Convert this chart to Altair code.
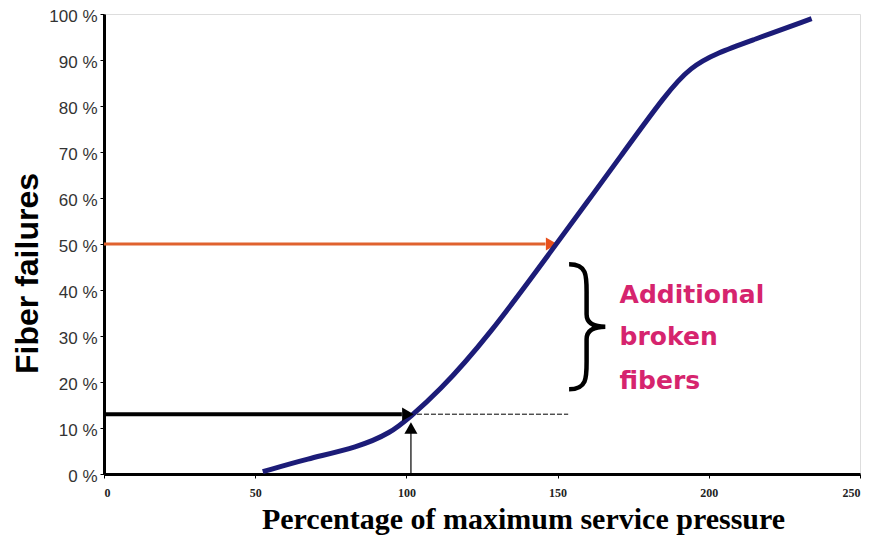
import altair as alt
import pandas as pd

# Curve: percentage of max service pressure vs fiber failures (%)
pressure = [52.5, 67, 84, 95, 101, 110, 127, 149, 160, 170, 186, 194, 203, 214, 234]
failures = [0.5, 3.3, 5.8, 9.0, 12.3, 17.4, 29.8, 49.5, 59.3, 68.3, 82.8, 88.5, 91.6, 94.2, 99.0]

x_ticks = [0, 50, 100, 150, 200, 250]
y_ticks = [0, 10, 20, 30, 40, 50, 60, 70, 80, 90, 100]

# Annotation values
half_level = 50
half_x = 148
low_level = 13
low_x = 100.5
dash_end = 153.5
service_x = 101.5
service_tip = 10.0
brace_x = 160
brace_y = 32
note_x = 170.5
note_lines = ["Additional", "broken", "fibers"]
note_y = [38.9, 29.8, 20.2]

curve_df = pd.DataFrame({"x": pressure, "y": failures})

X = alt.X("x:Q", scale=alt.Scale(domain=[0, 250], nice=False),
          axis=alt.Axis(values=x_ticks, title="Percentage of maximum service pressure",
                        grid=False, domainColor="black", domainWidth=3,
                        tickColor="black", tickSize=4, labelPadding=9,
                        labelFont="Liberation Serif", labelFontWeight="bold",
                        labelFontSize=12, labelColor="#222",
                        titleFont="Liberation Serif", titleFontSize=30,
                        titleFontWeight="bold", titleColor="black",
                        titleX=419, titleY=54, titleBaseline="alphabetic",
                        titleAlign="center"))
Y = alt.Y("y:Q", scale=alt.Scale(domain=[0, 100], nice=False),
          axis=alt.Axis(values=y_ticks, title="Fiber failures", grid=False,
                        labelExpr="datum.value + ' %'",
                        domainColor="black", domainWidth=3,
                        tickColor="black", tickSize=4, labelPadding=3,
                        labelFont="Liberation Sans", labelFontSize=17,
                        labelColor="#333", labelOffset=2,
                        titleFont="Liberation Sans", titleFontSize=32,
                        titleFontWeight="bold", titleColor="black",
                        titleX=-77, titleY=259, titleAngle=-90,
                        titleBaseline="middle", titleAlign="center"))

curve = alt.Chart(curve_df).mark_line(
    color="#1c1c78", strokeWidth=5, interpolate="basis"
).encode(x=X, y=Y)

# Orange 50% arrow
orange_df = pd.DataFrame({"x": [0], "x2": [half_x - 2], "y": [half_level]})
orange_line = alt.Chart(orange_df).mark_rule(color="#e0622e", strokeWidth=3).encode(
    x="x:Q", x2="x2:Q", y="y:Q")
orange_head = alt.Chart(pd.DataFrame({"x": [half_x], "y": [half_level]})).mark_point(
    shape="triangle-right", filled=True, color="#e8501c", size=170, opacity=1
).encode(x="x:Q", y="y:Q")

# Black 13% arrow
black_df = pd.DataFrame({"x": [0], "x2": [low_x - 2], "y": [low_level]})
black_line = alt.Chart(black_df).mark_rule(color="black", strokeWidth=4).encode(
    x="x:Q", x2="x2:Q", y="y:Q")
black_head = alt.Chart(pd.DataFrame({"x": [low_x], "y": [low_level]})).mark_point(
    shape="triangle-right", filled=True, color="black", size=180, opacity=1
).encode(x="x:Q", y="y:Q")
dash_df = pd.DataFrame({"x": [low_x + 3], "x2": [dash_end], "y": [low_level]})
dash_line = alt.Chart(dash_df).mark_rule(color="black", strokeWidth=1,
                                         strokeDash=[5, 2]).encode(
    x="x:Q", x2="x2:Q", y="y:Q")

# Vertical service pressure arrow
vert_df = pd.DataFrame({"x": [service_x], "y": [0], "y2": [service_tip - 1]})
vert_line = alt.Chart(vert_df).mark_rule(color="black", strokeWidth=1.2).encode(
    x="x:Q", y="y:Q", y2="y2:Q")
vert_head = alt.Chart(pd.DataFrame({"x": [service_x], "y": [service_tip]})).mark_point(
    shape="triangle-up", filled=True, color="black", size=170, opacity=1
).encode(x="x:Q", y="y:Q")

# Curly brace
brace_path = ("M -0.3,-1 C 0.0,-1 -0.02,-0.8 -0.02,-0.5 L -0.02,-0.2 "
              "C -0.02,-0.05 0.1,0 0.28,0 C 0.1,0 -0.02,0.05 -0.02,0.2 "
              "L -0.02,0.5 C -0.02,0.8 0.0,1 -0.3,1")
brace = alt.Chart(pd.DataFrame({"x": [brace_x], "y": [brace_y]})).mark_point(
    shape=brace_path, filled=False, color="black", strokeWidth=4.5, size=15625, opacity=1
).encode(x="x:Q", y="y:Q")

note_df = pd.DataFrame({"x": [note_x] * 3, "y": note_y, "t": note_lines})
note = alt.Chart(note_df).mark_text(
    align="left", baseline="middle", font="DejaVu Sans", fontWeight="bold",
    fontSize=25, color="#d6246e"
).encode(x="x:Q", y="y:Q", text="t:N")

chart = alt.layer(
    orange_line, orange_head, dash_line, black_line, vert_line, vert_head,
    curve, black_head, brace, note
).properties(
    width=756, height=460,
    autosize=alt.AutoSizeParams(type="none"),
    padding={"left": 96, "top": 6, "right": 3, "bottom": 62},
).configure_view(stroke="#888", strokeWidth=1).configure(background="white")

chart.save("out.html", embed_options={"renderer": "svg", "actions": False})
